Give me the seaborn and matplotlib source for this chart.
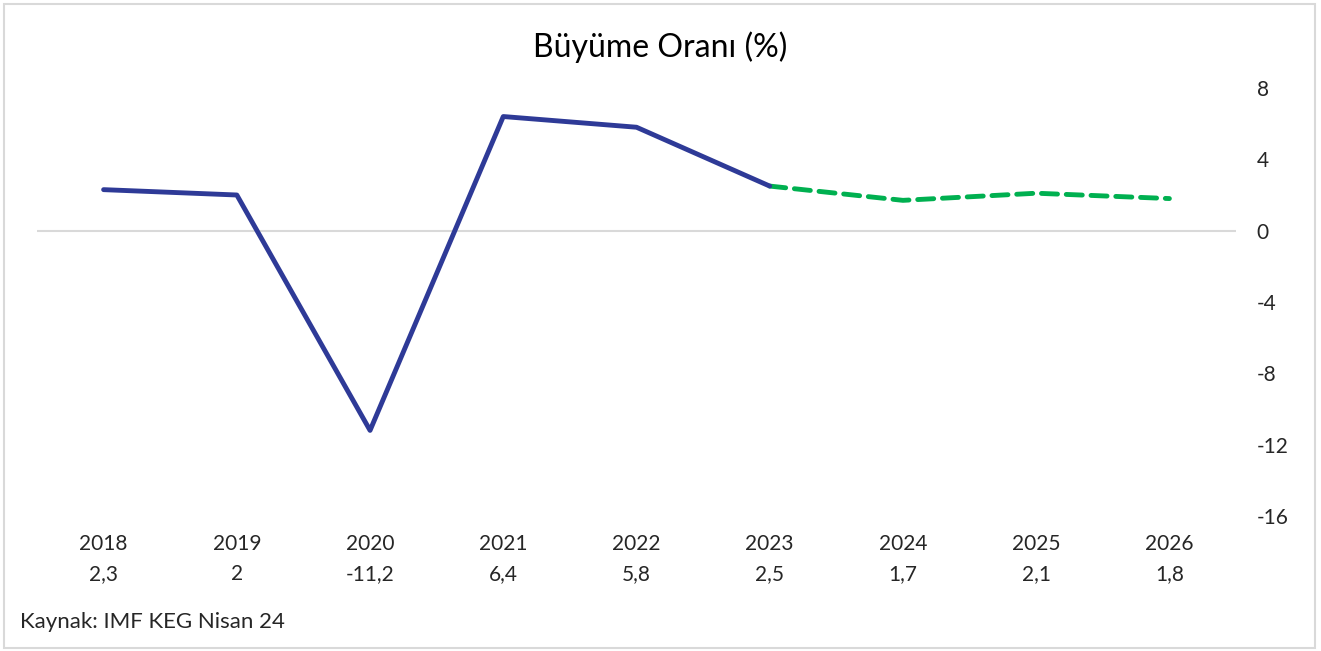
import numpy as np
import pandas as pd
import matplotlib
matplotlib.use("Agg")
import matplotlib.pyplot as plt
from matplotlib.patches import Rectangle
import seaborn as sns

# data
years = ["2018", "2019", "2020", "2021", "2022", "2023", "2024", "2025", "2026"]
growth = [2.3, 2.0, -11.2, 6.4, 5.8, 2.5, 1.7, 2.1, 1.8]
actual_years = ["2018", "2019", "2020", "2021", "2022", "2023"]
forecast_years = ["2023", "2024", "2025", "2026"]
yticks = [8, 4, 0, -4, -8, -12, -16]

sns.set_theme(style="white")
plt.rcParams["font.family"] = ["Lato", "DejaVu Sans"]

df = pd.DataFrame({"yil": years, "buyume": growth})
df["x"] = range(len(df))
df_act = df[df["yil"].isin(actual_years)]
df_fc = df[df["yil"].isin(forecast_years)]

fig = plt.figure(figsize=(13.21, 6.51), dpi=100)
ax = fig.add_axes([37 / 1321, (651 - 516) / 651, (1236 - 37) / 1321, (516 - 88) / 651])

ax.axhline(0, color="#D9D9D9", lw=1.5, zorder=1)
sns.lineplot(data=df_act, x="x", y="buyume", ax=ax, color="#2E3A97", lw=3.5,
             solid_capstyle="round", zorder=3)
sns.lineplot(data=df_fc, x="x", y="buyume", ax=ax, color="#00B050", lw=3.5,
             dashes=False, zorder=2)
ax.lines[-1].set_linestyle((0, (3.3, 1.8)))
ax.lines[-1].set_dash_capstyle("round")

ax.set_xlim(-0.5, len(years) - 0.5)
ax.set_ylim(-16, 8)
ax.set_yticks(yticks)
ax.set_yticklabels([str(t) for t in yticks])
ax.yaxis.tick_right()
for lab in ax.get_yticklabels():
    lab.set_horizontalalignment("left")
ax.tick_params(axis="y", length=0, pad=15, labelsize=15, labelcolor="#262626")

xlabels = [f"{y}\n{v:g}".replace(".", ",") for y, v in zip(years, growth)]
ax.set_xticks(df["x"])
ax.set_xticklabels(xlabels, linespacing=1.65)
ax.tick_params(axis="x", length=0, pad=13, labelsize=15, labelcolor="#262626")

ax.set_xlabel("")
ax.set_ylabel("")
for s in ax.spines.values():
    s.set_visible(False)

fig.text(660 / 1321, 1 - 47 / 651, "Büyüme Oranı (%)", ha="center", va="center",
         fontsize=23, color="#000000")
fig.text(20 / 1321, 1 - 622 / 651, "Kaynak: IMF KEG Nisan 24", ha="left", va="center",
         fontsize=16, color="#262626")

fig.patches.append(Rectangle((4 / 1321, 3 / 651), 1311 / 1321, 644 / 651,
                             transform=fig.transFigure, fill=False,
                             edgecolor="#D9D9D9", lw=1.5))

fig.savefig("out.png", dpi=100)
